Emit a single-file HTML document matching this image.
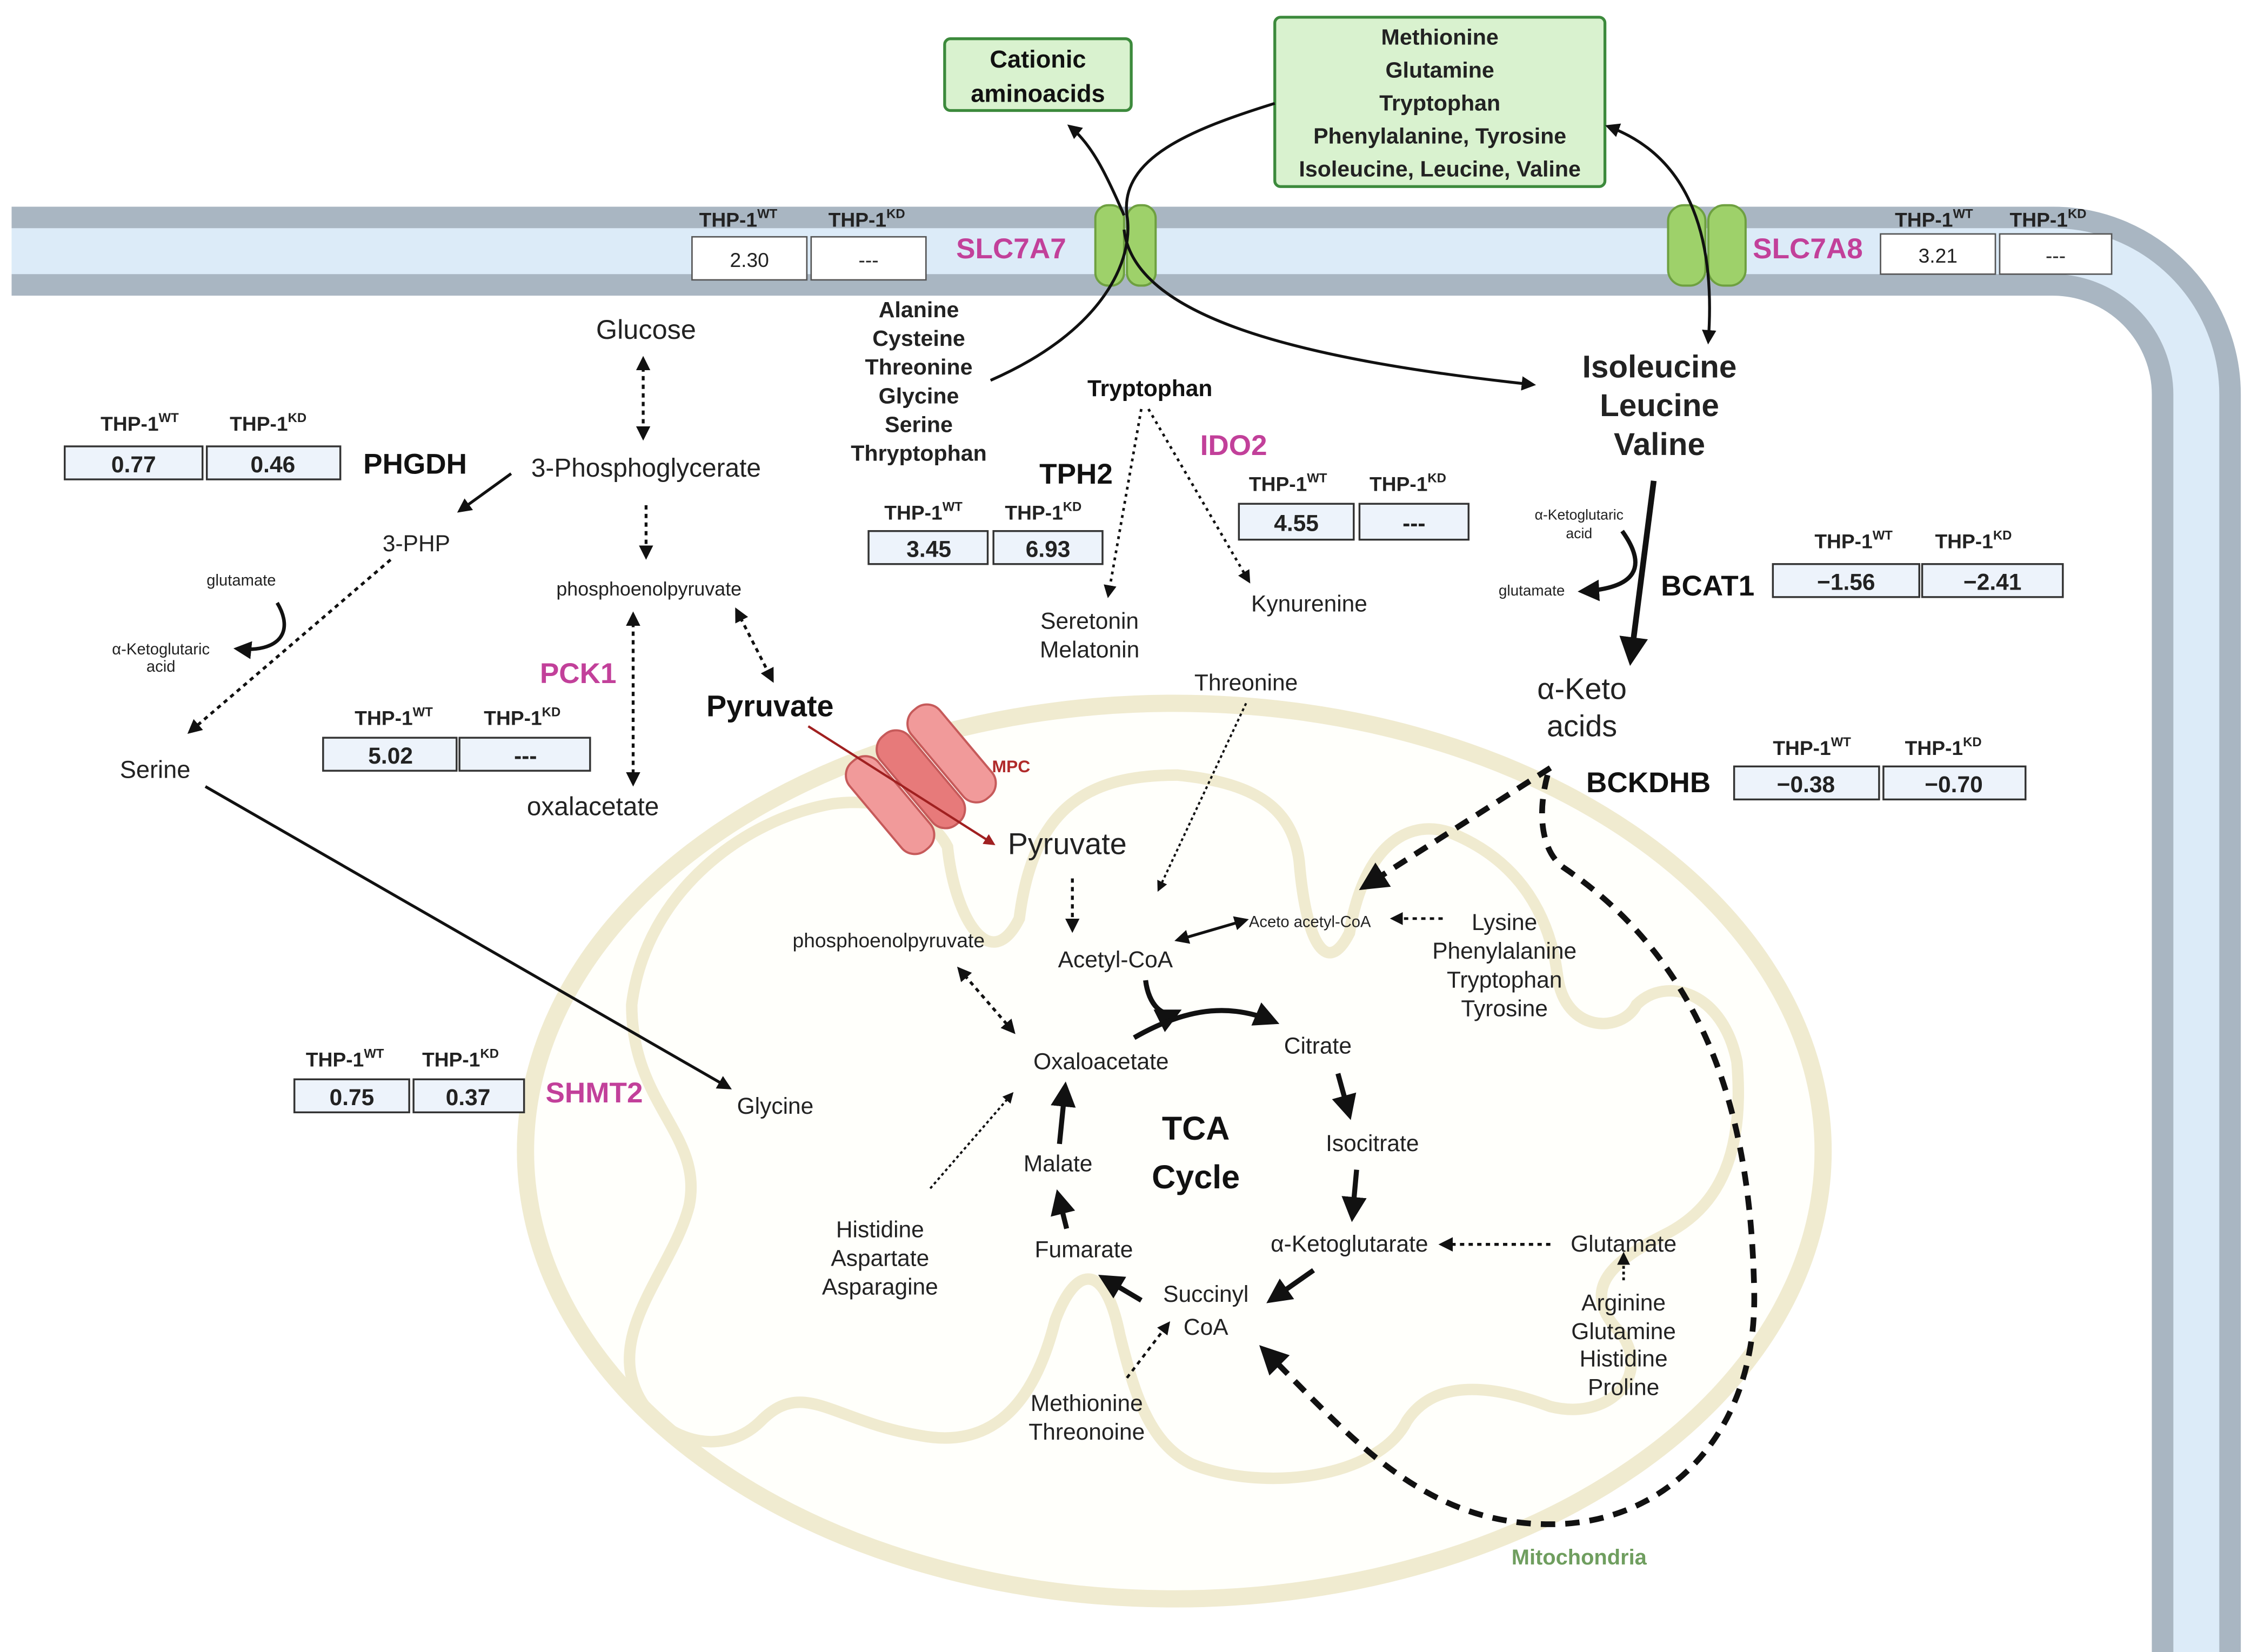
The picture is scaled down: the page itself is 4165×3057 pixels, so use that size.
<!DOCTYPE html>
<html><head><meta charset="utf-8"><style>
html,body{margin:0;padding:0;background:#fff}
svg{display:block}
text{font-family:"Liberation Sans",sans-serif;fill:#222}
.b{font-weight:bold;fill:#111}
.m{fill:#c2409a;font-weight:bold}
</style></head><body>
<svg width="4165" height="3057" viewBox="0 0 1568 1151" xmlns="http://www.w3.org/2000/svg">
<defs>
<marker id="a" viewBox="0 0 10 10" refX="8" refY="5" markerWidth="5" markerHeight="5" orient="auto-start-reverse"><path d="M0,0L10,5L0,10z" fill="#111"/></marker>
<marker id="r" viewBox="0 0 10 10" refX="8" refY="5" markerWidth="5" markerHeight="5" orient="auto"><path d="M0,0L10,5L0,10z" fill="#a02020"/></marker>
</defs>
<rect width="1568" height="1151" fill="#fff"/>
<path d="M8,175 H1430 A100,100 0 0 1 1530,275 V1151" fill="none" stroke="#a9b6c2" stroke-width="62"/>
<path d="M8,175 H1430 A100,100 0 0 1 1530,275 V1151" fill="none" stroke="#dcebf8" stroke-width="32"/>
<ellipse cx="818" cy="802" rx="452" ry="312" fill="#fffffb" stroke="#f0ebd0" stroke-width="12"/>
<path d="M440,700 C450,620 520,570 580,560 C620,555 650,570 660,590 C665,640 690,680 710,640 C720,560 760,540 820,540 C870,545 900,560 905,600 C910,660 925,680 940,650 C950,590 980,570 1010,580 C1060,600 1080,640 1085,680 C1090,720 1130,720 1140,700 C1160,680 1200,690 1210,740 C1215,800 1200,840 1160,860 C1120,880 1100,900 1130,930 C1150,960 1120,990 1080,980 C1040,965 1000,960 980,990 C960,1030 880,1040 830,1020 C800,1005 790,970 780,930 C770,880 750,880 735,920 C720,980 690,1010 640,1000 C580,990 560,960 530,990 C500,1020 450,1000 440,960 C430,920 470,880 480,840 C490,790 440,770 440,700 Z" fill="none" stroke="#f0ebd0" stroke-width="8"/>
<rect x="658" y="27" width="130" height="50" rx="4" fill="#d9f2cf" stroke="#3c8a3c" stroke-width="2"/>
<text x="723" y="47" text-anchor="middle" class="b" font-size="17">Cationic</text>
<text x="723" y="71" text-anchor="middle" class="b" font-size="17">aminoacids</text>
<rect x="888" y="12" width="230" height="118" rx="4" fill="#d9f2cf" stroke="#3c8a3c" stroke-width="2"/>
<g class="b" font-size="15.5" text-anchor="middle"><text x="1003" y="31">Methionine</text><text x="1003" y="54">Glutamine</text><text x="1003" y="77">Tryptophan</text><text x="1003" y="100">Phenylalanine, Tyrosine</text><text x="1003" y="123">Isoleucine, Leucine, Valine</text></g>
<g fill="#9ed16a" stroke="#6ea040" stroke-width="1.5"><rect x="763" y="143" width="20" height="56" rx="9"/><rect x="785" y="143" width="20" height="56" rx="9"/><rect x="1162" y="143" width="26" height="56" rx="11"/><rect x="1190" y="143" width="26" height="56" rx="11"/></g>
<g font-size="14" class="b"><text x="487" y="158">THP-1<tspan font-size="9" dy="-6">WT</tspan></text><text x="577" y="158">THP-1<tspan font-size="9" dy="-6">KD</tspan></text>
<text x="1320" y="158">THP-1<tspan font-size="9" dy="-6">WT</tspan></text><text x="1400" y="158">THP-1<tspan font-size="9" dy="-6">KD</tspan></text></g>
<g fill="#fff" stroke="#555"><rect x="482" y="165" width="80" height="30"/><rect x="565" y="165" width="80" height="30"/><rect x="1310" y="163" width="80" height="28"/><rect x="1393" y="163" width="78" height="28"/></g>
<g font-size="14" text-anchor="middle"><text x="522" y="186">2.30</text><text x="605" y="186">---</text><text x="1350" y="183">3.21</text><text x="1432" y="183">---</text></g>
<text x="666" y="180" class="m" font-size="20">SLC7A7</text>
<text x="1221" y="180" class="m" font-size="20">SLC7A8</text>
<path d="M690,265 C770,230 790,180 785,150 C780,110 830,90 888,72" fill="none" stroke="#111" stroke-width="2"/>
<path d="M783,150 C770,120 760,100 745,88" fill="none" stroke="#111" stroke-width="2" marker-end="url(#a)"/>
<path d="M783,160 C790,220 900,250 1068,268" fill="none" stroke="#111" stroke-width="2" marker-end="url(#a)"/>
<path d="M1190,238 C1195,170 1180,110 1120,88" fill="none" stroke="#111" stroke-width="2" marker-start="url(#a)" marker-end="url(#a)"/>
<g class="b" font-size="15.5" text-anchor="middle"><text x="640" y="221">Alanine</text><text x="640" y="241">Cysteine</text><text x="640" y="261">Threonine</text><text x="640" y="281">Glycine</text><text x="640" y="301">Serine</text><text x="640" y="321">Thryptophan</text></g>
<text x="450" y="236" text-anchor="middle" font-size="19">Glucose</text>
<line x1="448" y1="250" x2="448" y2="305" stroke="#111" stroke-width="2" stroke-dasharray="3,3" marker-start="url(#a)" marker-end="url(#a)"/>
<text x="450" y="332" text-anchor="middle" font-size="18">3-Phosphoglycerate</text>
<line x1="450" y1="352" x2="450" y2="388" stroke="#111" stroke-width="2" stroke-dasharray="3,3" marker-end="url(#a)"/>
<text x="452" y="415" text-anchor="middle" font-size="13.5">phosphoenolpyruvate</text>
<line x1="441" y1="428" x2="441" y2="546" stroke="#111" stroke-width="2" stroke-dasharray="3,3" marker-start="url(#a)" marker-end="url(#a)"/>
<line x1="513" y1="425" x2="538" y2="474" stroke="#111" stroke-width="2" stroke-dasharray="3,3" marker-start="url(#a)" marker-end="url(#a)"/>
<text x="413" y="568" text-anchor="middle" font-size="18">oxalacetate</text>
<text x="492" y="499" class="b" font-size="21">Pyruvate</text>
<text x="376" y="476" class="m" font-size="20">PCK1</text>
<g font-size="14" class="b"><text x="247" y="505">THP-1<tspan font-size="9" dy="-6">WT</tspan></text><text x="337" y="505">THP-1<tspan font-size="9" dy="-6">KD</tspan></text>
<text x="70" y="300">THP-1<tspan font-size="9" dy="-6">WT</tspan></text><text x="160" y="300">THP-1<tspan font-size="9" dy="-6">KD</tspan></text>
<text x="213" y="743">THP-1<tspan font-size="9" dy="-6">WT</tspan></text><text x="294" y="743">THP-1<tspan font-size="9" dy="-6">KD</tspan></text>
<text x="616" y="362">THP-1<tspan font-size="9" dy="-6">WT</tspan></text><text x="700" y="362">THP-1<tspan font-size="9" dy="-6">KD</tspan></text>
<text x="870" y="342">THP-1<tspan font-size="9" dy="-6">WT</tspan></text><text x="954" y="342">THP-1<tspan font-size="9" dy="-6">KD</tspan></text>
<text x="1264" y="382">THP-1<tspan font-size="9" dy="-6">WT</tspan></text><text x="1348" y="382">THP-1<tspan font-size="9" dy="-6">KD</tspan></text>
<text x="1235" y="526">THP-1<tspan font-size="9" dy="-6">WT</tspan></text><text x="1327" y="526">THP-1<tspan font-size="9" dy="-6">KD</tspan></text></g>
<g fill="#edf3fb" stroke="#333" stroke-width="1.3">
<rect x="225" y="514" width="93" height="23"/><rect x="320" y="514" width="91" height="23"/>
<rect x="45" y="311" width="96" height="23"/><rect x="144" y="311" width="93" height="23"/>
<rect x="205" y="752" width="80" height="23"/><rect x="288" y="752" width="77" height="23"/>
<rect x="605" y="370" width="83" height="23"/><rect x="692" y="370" width="76" height="23"/>
<rect x="863" y="351" width="80" height="25"/><rect x="947" y="351" width="76" height="25"/>
<rect x="1235" y="393" width="102" height="23"/><rect x="1339" y="393" width="98" height="23"/>
<rect x="1208" y="534" width="101" height="23"/><rect x="1312" y="534" width="99" height="23"/></g>
<g font-size="16" class="b" text-anchor="middle">
<text x="272" y="532">5.02</text><text x="366" y="532">---</text>
<text x="93" y="329">0.77</text><text x="190" y="329">0.46</text>
<text x="245" y="770">0.75</text><text x="326" y="770">0.37</text>
<text x="647" y="388">3.45</text><text x="730" y="388">6.93</text>
<text x="903" y="370">4.55</text><text x="985" y="370">---</text>
<text x="1286" y="411">−1.56</text><text x="1388" y="411">−2.41</text>
<text x="1258" y="552">−0.38</text><text x="1361" y="552">−0.70</text></g>
<text x="253" y="330" class="b" font-size="20">PHGDH</text>
<line x1="356" y1="330" x2="320" y2="356" stroke="#111" stroke-width="2" marker-end="url(#a)"/>
<text x="290" y="384" text-anchor="middle" font-size="16">3-PHP</text>
<line x1="272" y1="390" x2="132" y2="510" stroke="#111" stroke-width="2" stroke-dasharray="3,3" marker-end="url(#a)"/>
<text x="168" y="408" text-anchor="middle" font-size="11">glutamate</text>
<text x="112" y="456" text-anchor="middle" font-size="11">α-Ketoglutaric</text><text x="112" y="468" text-anchor="middle" font-size="11">acid</text>
<path d="M193,420 C205,440 195,455 165,452" fill="none" stroke="#111" stroke-width="2.5" marker-end="url(#a)"/>
<text x="108" y="542" text-anchor="middle" font-size="17">Serine</text>
<line x1="143" y1="548" x2="508" y2="758" stroke="#111" stroke-width="2" marker-end="url(#a)"/>
<text x="540" y="776" text-anchor="middle" font-size="16">Glycine</text>
<text x="380" y="768" class="m" font-size="20">SHMT2</text>
<text x="801" y="276" text-anchor="middle" class="b" font-size="16">Tryptophan</text>
<line x1="795" y1="285" x2="772" y2="415" stroke="#111" stroke-width="1.8" stroke-dasharray="2,3" marker-end="url(#a)"/>
<line x1="800" y1="285" x2="870" y2="405" stroke="#111" stroke-width="1.8" stroke-dasharray="2,3" marker-end="url(#a)"/>
<text x="724" y="337" class="b" font-size="20">TPH2</text>
<text x="836" y="317" class="m" font-size="20">IDO2</text>
<text x="759" y="438" text-anchor="middle" font-size="16">Seretonin</text><text x="759" y="458" text-anchor="middle" font-size="16">Melatonin</text>
<text x="912" y="426" text-anchor="middle" font-size="16">Kynurenine</text>
<g class="b" font-size="22" text-anchor="middle"><text x="1156" y="263">Isoleucine</text><text x="1156" y="290">Leucine</text><text x="1156" y="317">Valine</text></g>
<line x1="1152" y1="335" x2="1136" y2="460" stroke="#111" stroke-width="4" marker-end="url(#a)"/>
<text x="1100" y="362" text-anchor="middle" font-size="10">α-Ketoglutaric</text><text x="1100" y="375" text-anchor="middle" font-size="10">acid</text>
<text x="1067" y="415" text-anchor="middle" font-size="10.5">glutamate</text>
<path d="M1130,370 C1148,395 1140,410 1102,412" fill="none" stroke="#111" stroke-width="3" marker-end="url(#a)"/>
<text x="1157" y="415" class="b" font-size="20">BCAT1</text>
<text x="1102" y="487" text-anchor="middle" font-size="21">α-Keto</text><text x="1102" y="513" text-anchor="middle" font-size="21">acids</text>
<text x="1105" y="552" class="b" font-size="20">BCKDHB</text>
<line x1="1080" y1="535" x2="950" y2="618" stroke="#111" stroke-width="4" stroke-dasharray="10,7" marker-end="url(#a)"/>
<path d="M1078,540 C1070,570 1075,595 1090,605 C1200,680 1220,800 1222,900 C1224,1000 1160,1062 1080,1062 C990,1062 940,1000 880,940" fill="none" stroke="#111" stroke-width="4" stroke-dasharray="10,7" marker-end="url(#a)"/>
<text x="1100" y="1090" text-anchor="middle" font-size="15" font-weight="bold" style="fill:#6f9e5f">Mitochondria</text>
<g transform="translate(633,550) rotate(-40)" fill="#f19a9a" stroke="#c65a5a" stroke-width="1.5"><rect x="-30" y="-40" width="26" height="80" rx="12"/><rect x="-2" y="-40" width="26" height="80" rx="12" fill="#e77a7a"/><rect x="26" y="-40" width="26" height="80" rx="12"/></g>
<line x1="563" y1="506" x2="692" y2="588" stroke="#a02020" stroke-width="1.6" marker-end="url(#r)"/>
<text x="691" y="538" font-size="12" font-weight="bold" style="fill:#b02a2a">MPC</text>
<text x="702" y="595" font-size="21">Pyruvate</text>
<text x="868" y="481" text-anchor="middle" font-size="16">Threonine</text>
<line x1="868" y1="490" x2="807" y2="620" stroke="#111" stroke-width="1.5" stroke-dasharray="2,2" marker-end="url(#a)"/>
<line x1="747" y1="612" x2="747" y2="648" stroke="#111" stroke-width="2" stroke-dasharray="3,3" marker-end="url(#a)"/>
<g font-size="16"><text x="777" y="674" text-anchor="middle">Acetyl-CoA</text>
<text x="870" y="646" font-size="11">Aceto acetyl-CoA</text>
<text x="619" y="660" text-anchor="middle" font-size="14">phosphoenolpyruvate</text>
<text x="767" y="745" text-anchor="middle">Oxaloacetate</text>
<text x="918" y="734" text-anchor="middle">Citrate</text>
<text x="956" y="802" text-anchor="middle">Isocitrate</text>
<text x="940" y="872" text-anchor="middle">α-Ketoglutarate</text>
<text x="1131" y="872" text-anchor="middle">Glutamate</text>
<text x="840" y="907" text-anchor="middle">Succinyl</text><text x="840" y="930" text-anchor="middle">CoA</text>
<text x="755" y="876" text-anchor="middle">Fumarate</text>
<text x="737" y="816" text-anchor="middle">Malate</text>
<g text-anchor="middle"><text x="1048" y="648">Lysine</text><text x="1048" y="668">Phenylalanine</text><text x="1048" y="688">Tryptophan</text><text x="1048" y="708">Tyrosine</text>
<text x="613" y="862">Histidine</text><text x="613" y="882">Aspartate</text><text x="613" y="902">Asparagine</text>
<text x="757" y="983">Methionine</text><text x="757" y="1003">Threonoine</text>
<text x="1131" y="913">Arginine</text><text x="1131" y="933">Glutamine</text><text x="1131" y="952">Histidine</text><text x="1131" y="972">Proline</text></g></g>
<text x="833" y="794" text-anchor="middle" class="b" font-size="23">TCA</text><text x="833" y="828" text-anchor="middle" class="b" font-size="23">Cycle</text>
<line x1="820" y1="655" x2="868" y2="641" stroke="#111" stroke-width="2" marker-start="url(#a)" marker-end="url(#a)"/>
<line x1="1005" y1="640" x2="970" y2="640" stroke="#111" stroke-width="1.8" stroke-dasharray="3,3" marker-end="url(#a)"/>
<line x1="668" y1="675" x2="706" y2="719" stroke="#111" stroke-width="2" stroke-dasharray="3,3" marker-start="url(#a)" marker-end="url(#a)"/>
<g fill="none" stroke="#111" stroke-width="3.5" marker-end="url(#a)">
<path d="M798,683 C800,700 810,710 820,705"/>
<path d="M790,723 C830,700 860,700 888,712"/>
<path d="M932,748 L940,777"/>
<path d="M945,815 L942,848"/>
<path d="M915,885 L885,906"/>
<path d="M795,906 L768,890"/>
<path d="M743,856 L737,832"/>
<path d="M738,797 L742,757"/></g>
<line x1="1080" y1="867" x2="1004" y2="867" stroke="#111" stroke-width="2" stroke-dasharray="3,3" marker-end="url(#a)"/>
<line x1="1131" y1="892" x2="1131" y2="874" stroke="#111" stroke-width="1.8" stroke-dasharray="2,2" marker-end="url(#a)"/>
<line x1="648" y1="828" x2="705" y2="762" stroke="#111" stroke-width="1.5" stroke-dasharray="2,2" marker-end="url(#a)"/>
<line x1="785" y1="960" x2="814" y2="922" stroke="#111" stroke-width="1.8" stroke-dasharray="3,3" marker-end="url(#a)"/>
</svg>
</body></html>
